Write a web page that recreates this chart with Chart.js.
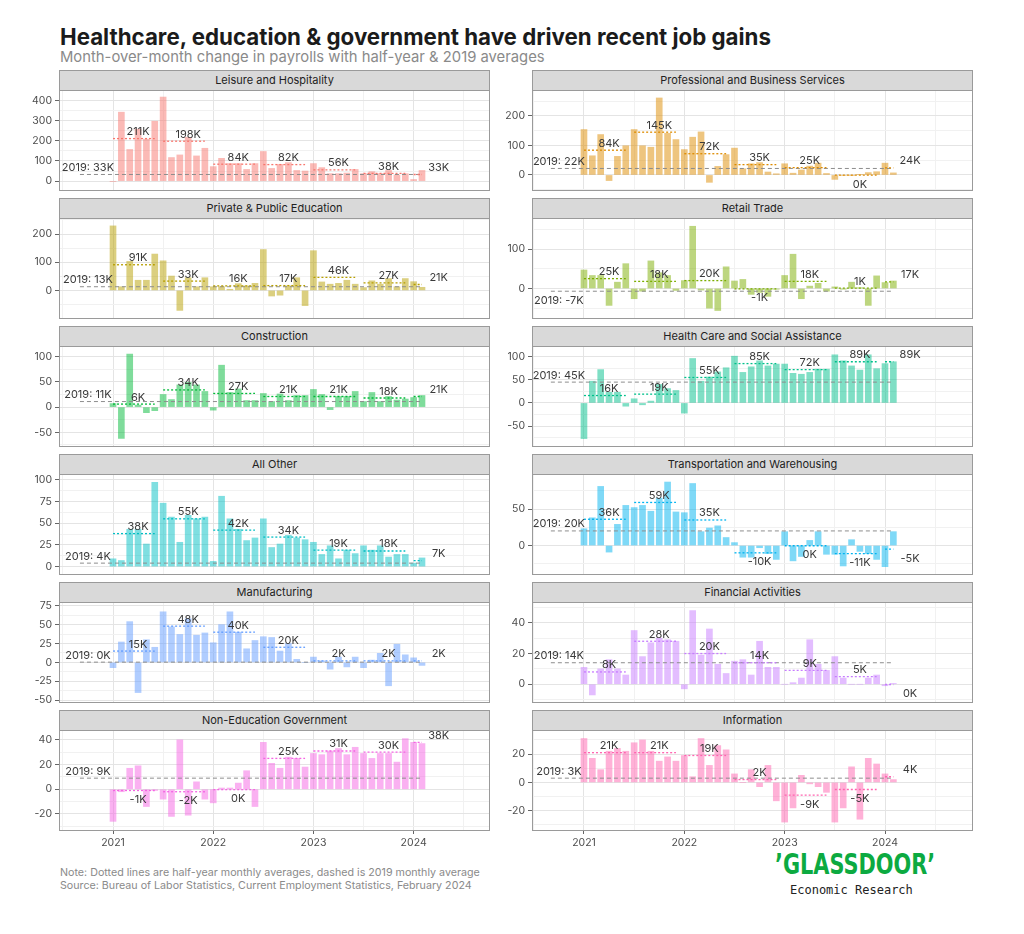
<!DOCTYPE html>
<html>
<head>
<meta charset="utf-8">
<script src="https://cdn.jsdelivr.net/npm/chart.js@4.4.1/dist/chart.umd.min.js"></script>
<style>
  body { margin: 0; background: #fff; }
  #page { position: relative; width: 1024px; height: 934px; overflow: hidden; font-family: Inter, "Noto Sans", sans-serif; }
  .abs { position: absolute; }
  #title { left: 60px; top: 25px; font-size: 22.3px; font-weight: 700; color: #1b1b1b; line-height: 24px; white-space: nowrap; }
  #subtitle { left: 60px; top: 49px; font-size: 14.8px; color: #8a8a8a; line-height: 16px; white-space: nowrap; }
  .strip { box-sizing: border-box; background: #d9d9d9; border: 1px solid #9a9a9a; font-size: 11px; color: #222; text-align: center; line-height: 18px; }
  .frame { box-sizing: border-box; border: 1px solid #9a9a9a; pointer-events: none; }
  #note { left: 60px; top: 866px; font-size: 10.7px; color: #8a8a8a; line-height: 13px; white-space: nowrap; }
  #gd { left: 775px; top: 849px; font: bold 30px "Liberation Sans Narrow", "DejaVu Sans Condensed", sans-serif; color: #0caa41; line-height: 32px; transform-origin: 0 0; white-space: nowrap; }
  #er { left: 790px; top: 883px; font: 12px "DejaVu Sans Mono", "Liberation Mono", monospace; color: #222; white-space: nowrap; }
</style>
</head>
<body>
<div id="page">
  <div id="title" class="abs">Healthcare, education &amp; government have driven recent job gains</div>
  <div id="subtitle" class="abs">Month-over-month change in payrolls with half-year &amp; 2019 averages</div>
  <div id="note" class="abs">Note: Dotted lines are half-year monthly averages, dashed is 2019 monthly average<br>Source: Bureau of Labor Statistics, Current Employment Statistics, February 2024</div>
  <div id="gd" class="abs">’GLASSDOOR’</div>
  <div id="er" class="abs">Economic Research</div>
</div>
<script>
// monthly change in payrolls (thousands), Jan 2021 .. Feb 2024
const leisure = [-2, 342, 157, 258, 208, 297, 417, 117, 130, 217, 125, 163, 72, 113, 87, 87, 58, 87, 147, 63, 83, 92, 53, 50, 87, 67, 37, 37, 40, 58, 37, 47, 37, 53, 30, 37, 8, 53];
const prof = [154, 65, 137, -19, 63, 99, 154, 99, 94, 261, 141, 120, 86, 128, 146, -25, 29, 69, 91, 21, 38, 42, 10, 4, 38, 6, 17, 30, 40, 5, -15, -2, -1, 2, 8, 11, 40, 7];
const education = [229, 13, 103, 36, 36, 129, 105, 51, -71, 45, 13, 45, 13, 13, 4, 24, 16, 25, 145, -20, -17, 16, 45, -54, 141, 30, 22, 25, 36, 22, 10, 34, 22, 42, 13, 42, 31, 11];
const retail = [47, 33, 33, -43, 16, 63, -26, -7, 70, 40, 33, -5, 20, 158, -4, -50, -56, 55, 19, 23, -15, -10, -20, -2, 33, 87, -26, 6, 13, -7, 4, -2, 16, 2, -43, 32, 15, 19];
const construction = [7, -62, 105, 4, -11, -7, 25, 15, 44, 49, 44, 31, -6, 83, 29, 36, 13, 13, 27, 11, 26, 13, 23, 23, 35, 25, -5, 21, 21, 31, 11, 29, 11, 21, 14, 16, 19, 23];
const health = [-77, 47, 72, 23, 23, -7, 9, -4, 4, 40, 31, 27, -22, 96, 47, 56, 67, 76, 101, 66, 78, 91, 80, 84, 84, 64, 62, 66, 73, 73, 104, 91, 80, 71, 104, 74, 85, 89];
const allOther = [9, 7, 43, 43, 26, 97, 73, 57, 28, 59, 55, 57, 6, 81, 55, 43, 30, 33, 55, 22, 26, 36, 33, 31, 28, 14, 24, 9, 19, 15, 24, 19, 24, 11, 14, 14, 4, 10];
const transport = [23, 38, 81, -9, 29, 55, 52, 55, 47, 65, 87, 46, 45, 85, 19, 24, 27, 11, 4, -16, -16, -3, -11, -19, 19, -21, -15, 7, 19, -12, -12, -28, 8, -8, -11, -19, -29, 19];
const manufacturing = [-7, 27, 54, -40, 30, 20, 67, 47, 37, 58, 36, 39, 26, 50, 67, 40, 18, 29, 34, 33, 15, 25, 4, 0, 7, 2, -9, 7, -6, 7, -7, 3, 12, -31, 24, 10, 6, -4];
const financial = [11, -7, 10, 16, 10, 6, 35, 18, 27, 30, 29, 28, -3, 48, 19, 36, 13, 7, 15, 16, 6, 28, 11, 11, 0, 1, 4, 29, 13, 9, 18, 4, 0, 0, 4, 6, -1, 0.5];
const government = [-26, -2, 17, 19, -14, -1, -8, -22, 40, -21, 6, -8, -11, 1, 1, 5, 15, -14, 38, 21, 17, 26, 25, 18, 29, 28, 31, 33, 28, 34, 29, 25, 29, 29, 22, 41, 38, 37];
const information = [31, 17, 9, 22, 24, 22, 28, 30, 22, 15, 18, 15, 19, 4, 31, 12, 26, 23, 6, 0, 9, -3, 12, -13, -28, -18, 5, -1, -3, -7, -28, -18, 11, -26, 17, 13, 6, 2];

// half-year monthly averages: H1'21, H2'21, H1'22, H2'22, H1'23, H2'23, Jan-Feb'24
const leisureHalf = [211, 198, 84, 82, 56, 38, 33];
const profHalf = [84, 145, 72, 35, 25, -0.3, 24];
const educationHalf = [91, 33, 16, 17, 46, 27, 21];
const retailHalf = [25, 18, 20, -1, 18, 1, 17];
const constructionHalf = [6, 34, 27, 21, 21, 18, 21];
const healthHalf = [16, 19, 55, 85, 72, 89, 89];
const allOtherHalf = [38, 55, 42, 34, 19, 18, 7];
const transportHalf = [36, 59, 35, -10, -0.3, -11, -5];
const manufacturingHalf = [15, 48, 40, 20, 2, 2, 2];
const financialHalf = [8, 28, 20, 14, 9, 5, -0.2];
const governmentHalf = [-1, -2, -0.3, 25, 31, 30, 38];
const informationHalf = [21, 21, 19, 2, -9, -5, 4];

const sectors = ['Leisure and Hospitality', 'Professional and Business Services', 'Private & Public Education', 'Retail Trade',
  'Construction', 'Health Care and Social Assistance', 'All Other', 'Transportation and Warehousing',
  'Manufacturing', 'Financial Activities', 'Non-Education Government', 'Information'];
const avg2019 = [33, 22, 13, -7, 11, 45, 4, 20, 0.3, 14, 9, 3];
const yTickLabels = [[0, 100, 200, 300, 400], [0, 100, 200], [0, 100, 200], [0, 100], [-50, 0, 50, 100], [-50, 0, 50, 100],
  [0, 25, 50, 75, 100], [0, 50], [-50, -25, 0, 25, 50, 75], [0, 20, 40], [-20, 0, 20, 40], [-20, 0, 20]];
const xTickLabels = [2021, 2022, 2023, 2024];
const halfStarts = [2021, 2021.5, 2022, 2022.5, 2023, 2023.5, 2024];
const halfLengths = [5, 5, 5, 5, 5, 5, 1]; // months spanned after first month

const monthly = [leisure, prof, education, retail, construction, health, allOther, transport, manufacturing, financial, government, information];
const halves = [leisureHalf, profHalf, educationHalf, retailHalf, constructionHalf, healthHalf, allOtherHalf, transportHalf, manufacturingHalf, financialHalf, governmentHalf, informationHalf];
const months = leisure.map((_, i) => 2021 + i / 12);

// styling / layout
const hues = ['#F8766D', '#DE8C00', '#B79F00', '#7CAE00', '#00BA38', '#00C08B', '#00BFC4', '#00B4F0', '#619CFF', '#C77CFF', '#F564E3', '#FF64B0'];
const yRanges = [[-44, 452], [-51, 288], [-98, 257], [-75, 179], [-77, 121], [-93, 123], [-8.5, 106.6], [-39, 98], [-52.5, 80], [-11.6, 53.6], [-33, 48], [-33.6, 37]];
const cols = [
  { canvasLeft: 10, plotLeft: 59, plotRight: 490, xMin: 2020.461, xMax: 2024.762 },
  { canvasLeft: 490, plotLeft: 532, plotRight: 973, xMin: 2020.482, xMax: 2024.877 }
];
const FONT = 'Inter, "Noto Sans", sans-serif';
const PAD = 8; // room for edge tick labels above/below the panel

function alpha(hex, a) {
  const n = parseInt(hex.slice(1), 16);
  return `rgba(${n >> 16}, ${(n >> 8) & 255}, ${n & 255}, ${a})`;
}
const fmtK = v => `${Math.round(v)}K`;

const labelPlugin = {
  id: 'avgLabels',
  afterDatasetsDraw(chart, args, opts) {
    const { ctx } = chart;
    const x = chart.scales.x, y = chart.scales.y;
    ctx.save();
    ctx.font = '11px ' + FONT;
    ctx.fillStyle = '#3a3a3a';
    ctx.textAlign = 'center';
    ctx.textBaseline = 'alphabetic';
    opts.items.forEach(it => {
      const px = x.getPixelForValue(it.x), py = y.getPixelForValue(it.v);
      ctx.fillText(it.text, px, it.v > 0 ? py - 3.5 : py + 12.5);
    });
    ctx.restore();
  }
};

const page = document.getElementById('page');

sectors.forEach((name, p) => {
  const col = cols[p % 2], row = Math.floor(p / 2);
  const bottom = row === 5;
  const stripTop = 70 + 128 * row, plotTop = stripTop + 20, plotH = 100;
  const plotW = col.plotRight - col.plotLeft;

  const strip = document.createElement('div');
  strip.className = 'abs strip';
  Object.assign(strip.style, { left: col.plotLeft + 'px', top: stripTop + 'px', width: plotW + 'px', height: '21px' });
  strip.textContent = name;
  page.appendChild(strip);

  const cv = document.createElement('canvas');
  cv.className = 'abs';
  const cw = col.plotRight - col.canvasLeft, ch = PAD + plotH + (bottom ? 24 : PAD);
  cv.width = cw; cv.height = ch;
  Object.assign(cv.style, { left: col.canvasLeft + 'px', top: (plotTop - PAD) + 'px', width: cw + 'px', height: ch + 'px' });
  page.appendChild(cv);

  const frame = document.createElement('div');
  frame.className = 'abs frame';
  Object.assign(frame.style, { left: col.plotLeft + 'px', top: plotTop + 'px', width: plotW + 'px', height: (plotH + 1) + 'px' });
  page.appendChild(frame);

  const [yMin, yMax] = yRanges[p];
  const majors = yTickLabels[p];
  const step = (majors[1] - majors[0]) / 2;
  const yGrid = [];
  for (let v = Math.ceil(yMin / step) * step; v <= yMax; v += step) yGrid.push(v);
  const xGrid = [];
  for (let v = 2020.5; v <= 2024.5; v += 0.5) xGrid.push(v);

  const half = halves[p];
  const datasets = [{
    type: 'bar', order: 2,
    data: monthly[p].map((v, i) => ({ x: months[i], y: v })),
    backgroundColor: alpha(hues[p], 0.5), borderWidth: 0, barThickness: 6
  }, {
    type: 'line', order: 1,
    data: [{ x: 2020.67, y: avg2019[p] }, { x: 2024 + 1 / 12, y: avg2019[p] }],
    borderColor: '#8d8d8d', borderWidth: 1, borderDash: [4, 3], pointRadius: 0
  }];
  half.forEach((v, h) => datasets.push({
    type: 'line', order: 0,
    data: [{ x: halfStarts[h], y: v }, { x: halfStarts[h] + halfLengths[h] / 12, y: v }],
    borderColor: hues[p], borderWidth: 1.3, borderDash: [2, 2], pointRadius: 0
  }));

  const items = [{ x: 2020.75, v: avg2019[p], text: '2019: ' + fmtK(avg2019[p]) }];
  half.forEach((v, h) => items.push({ x: halfStarts[h] + 0.25, v, text: fmtK(v) }));

  new Chart(cv, {
    type: 'bar',
    data: { datasets },
    plugins: [labelPlugin],
    options: {
      responsive: false, animation: false, devicePixelRatio: 1,
      layout: { padding: { top: PAD, bottom: bottom ? 0 : PAD, left: 0, right: 0 } },
      plugins: { legend: { display: false }, tooltip: { enabled: false }, avgLabels: { items } },
      scales: {
        x: {
          type: 'linear', min: col.xMin, max: col.xMax, offset: false,
          afterBuildTicks: s => { s.ticks = xGrid.map(v => ({ value: v })); },
          afterFit: s => { s.height = bottom ? 24 : 0; s.paddingLeft = 0; s.paddingRight = 0; },
          border: { display: false },
          grid: {
            offset: false, drawTicks: bottom, tickLength: 4,
            color: c => c.tick && Number.isInteger(c.tick.value) ? '#e4e4e4' : '#f1f1f1',
            tickColor: c => c.tick && Number.isInteger(c.tick.value) ? '#666' : 'rgba(0,0,0,0)'
          },
          ticks: {
            display: bottom, autoSkip: false, maxRotation: 0, padding: 3,
            color: '#4d4d4d', font: { family: FONT, size: 10.5 },
            callback: v => xTickLabels.includes(v) ? String(v) : ''
          }
        },
        y: {
          type: 'linear', min: yMin, max: yMax,
          afterBuildTicks: s => { s.ticks = yGrid.map(v => ({ value: v })); },
          afterFit: s => { s.width = col.plotLeft - col.canvasLeft; s.paddingTop = 0; s.paddingBottom = 0; },
          border: { display: false },
          grid: {
            drawTicks: true, tickLength: 4,
            color: c => c.tick && majors.includes(c.tick.value) ? '#e4e4e4' : '#f1f1f1',
            tickColor: c => c.tick && majors.includes(c.tick.value) ? '#666' : 'rgba(0,0,0,0)'
          },
          ticks: {
            autoSkip: false, padding: 3, color: '#4d4d4d', font: { family: FONT, size: 10.5 },
            callback: v => majors.includes(v) ? String(v) : ''
          }
        }
      }
    }
  });
});

// fit the logo word to its width in the reference
const gd = document.getElementById('gd');
gd.style.transform = `scale(${160 / gd.offsetWidth}, 0.95)`;
</script>
</body>
</html>
